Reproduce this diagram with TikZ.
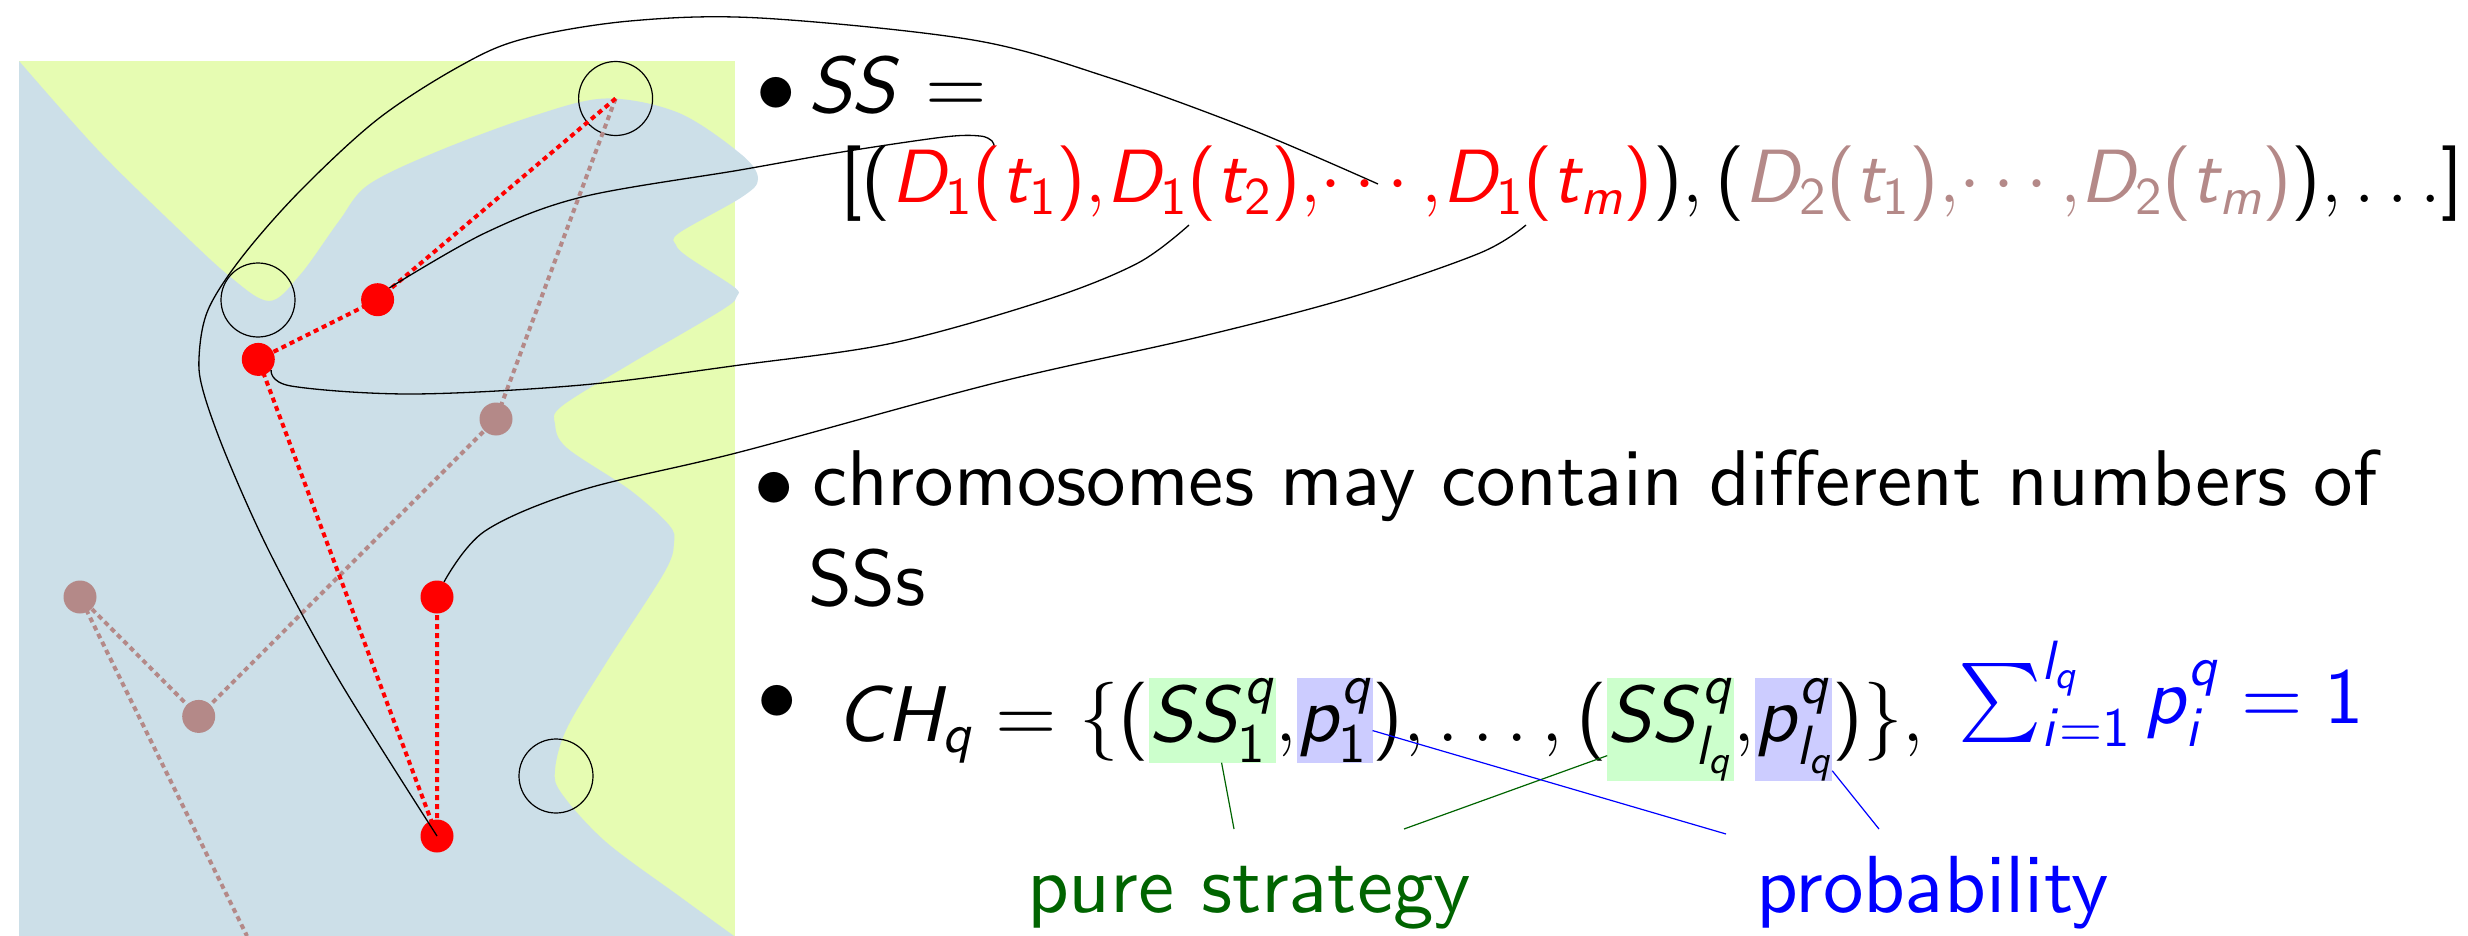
\RequirePackage{fix-cm}
\documentclass[tikz,border=0pt]{standalone}
\usetikzlibrary{calc}
\DeclareFontFamily{OT1}{mysf}{}
\DeclareFontShape{OT1}{mysf}{m}{n}{<->cmss10}{}
\DeclareFontShape{OT1}{mysf}{m}{sl}{<->cmssi10}{}
\DeclareFontFamily{OMX}{myex}{}
\DeclareFontShape{OMX}{myex}{m}{n}{<->cmex10}{}
\DeclareSymbolFont{operators}{OT1}{mysf}{m}{n}
\DeclareSymbolFont{sfletters}{OT1}{mysf}{m}{sl}
\DeclareSymbolFont{largesymbols}{OMX}{myex}{m}{n}
\DeclareMathSymbol{C}{\mathalpha}{sfletters}{`C}
\DeclareMathSymbol{D}{\mathalpha}{sfletters}{`D}
\DeclareMathSymbol{H}{\mathalpha}{sfletters}{`H}
\DeclareMathSymbol{S}{\mathalpha}{sfletters}{`S}
\DeclareMathSymbol{i}{\mathalpha}{sfletters}{`i}
\DeclareMathSymbol{l}{\mathalpha}{sfletters}{`l}
\DeclareMathSymbol{m}{\mathalpha}{sfletters}{`m}
\DeclareMathSymbol{p}{\mathalpha}{sfletters}{`p}
\DeclareMathSymbol{q}{\mathalpha}{sfletters}{`q}
\DeclareMathSymbol{t}{\mathalpha}{sfletters}{`t}
\newcommand{\cmsstext}{\fontencoding{OT1}\fontfamily{mysf}\fontseries{m}\fontshape{n}}
\definecolor{yelbg}{RGB}{230,252,178}
\definecolor{bluebg}{RGB}{204,223,232}
\definecolor{brn}{RGB}{180,137,136}
\definecolor{dgreen}{RGB}{0,100,0}
\definecolor{hlgreen}{RGB}{204,255,204}
\definecolor{hlblue}{RGB}{204,204,255}
\begin{document}
\begin{tikzpicture}[x=1pt,y=-1pt,
  txt/.style={inner sep=0pt, outer sep=0pt, anchor=base west, font={\cmsstext\fontsize{79}{95}\selectfont}},
  lbltxt/.style={inner sep=0pt, outer sep=0pt, anchor=base west, font={\cmsstext\fontsize{81}{97}\selectfont}},
  seqtxt/.style={inner sep=0pt, outer sep=0pt, anchor=base west, font={\cmsstext\fontsize{75.5}{92}\selectfont}},
  bul/.style={inner sep=0pt, outer sep=0pt, anchor=center, font={\fontsize{79}{95}\selectfont}},
  ring/.style={circle, draw=black, line width=1.2pt, minimum size=74pt, inner sep=0pt},
  reddot/.style={circle, fill=red, minimum size=33pt, inner sep=0pt},
  brndot/.style={circle, fill=brn, minimum size=33pt, inner sep=0pt},
  reddots/.style={red, line width=4pt, dash pattern=on 5pt off 4pt},
  brndots/.style={brn, line width=4pt, dash pattern=on 5pt off 4pt},
  curve/.style={black, line width=1.3pt},
  gline/.style={dgreen, line width=1.2pt},
  bline/.style={blue, line width=1.2pt}]
\useasboundingbox (0,0) rectangle (2468,936);
% background
\fill[yelbg] (19,61) rectangle (735,936);
\fill[bluebg] plot[smooth, tension=0.55] coordinates {(19,61) (97,149) (170,221) (228,275) (269,301) (300,275) (339,221) (368,185) (436,152) (533,116) (606,98.5) (679,113) (742,155) (758,179) (742,197) (679,233) (676,245) (688,257) (734,287) (737,296) (722,310) (630,364) (562,406) (555,424) (567,448) (630,490) (669,525) (674,543) (664,573) (606,663) (567,728) (555,770) (562,794) (606,842) (679,896) (734,936)} -- (19,936) -- cycle;
% positions
\coordinate (pr1) at (377.6,299.7);
\coordinate (pr2) at (258.3,359.4);
\coordinate (pr3) at (437,597);
\coordinate (pr4) at (437,836);
\coordinate (pb1) at (496,419);
\coordinate (pb2) at (198.7,716.4);
\coordinate (pb3) at (80,597);
\coordinate (bend) at (247,936);
% circles
\node[ring] (c1) at (615.6,98.5) {};
\node[ring] (c2) at (258,300) {};
\node[ring] (c3) at (556,776) {};
% dotted paths
\draw[brndots] (c1.center) -- (pb1) -- (pb2) -- (pb3) -- (bend);
\draw[reddots] (c1.center) -- (pr1) -- (pr2) -- (pr4) -- (pr3);
% dots
\node[reddot] (r1) at (pr1) {};
\node[reddot] (r2) at (pr2) {};
\node[reddot] (r3) at (pr3) {};
\node[reddot] (r4) at (pr4) {};
\node[brndot] (b1) at (pb1) {};
\node[brndot] (b2) at (pb2) {};
\node[brndot] (b3) at (pb3) {};
% curve end points
\coordinate (eA) at (1378,184);
\coordinate (eB) at (994,146);
\coordinate (eC) at (1189,225);
\coordinate (eD) at (1526,225);
% curves
\draw[curve] plot[smooth, tension=0.55] coordinates {(r4.center) (339,680) (271,555) (228,460) (204,394) (199,358) (208,310) (242,257) (300,191) (378,119) (460,66) (523,39) (630,21) (760,18) (973,40) (1107,77) (1250,129) (eA)};
\draw[curve] plot[smooth, tension=0.55] coordinates {(r1.45) (485,233) (582,197) (740,170) (842,152) (944,137) (980,136) (992,141) (eB)};
\draw[curve] plot[smooth, tension=0.55] coordinates {(r2.-40) (291,386) (412,394) (582,385) (740,365) (893,343) (1046,300) (1138,263) (eC)};
\draw[curve] plot[smooth, tension=0.55] coordinates {(r3.65) (485,531) (582,490) (740,452) (995,383) (1199,337) (1352,297) (1480,253) (eD)};
% bullets
\node[bul] (bu1) at (776.7,95) {$\bullet$};
\node[bul] (bu2) at (774,490) {$\bullet$};
\node[bul] (bu3) at (777,703) {$\bullet$};
% texts
\node[txt] (ss) at (808,113) {$SS =$};
\node[seqtxt] (seq) at (840,203) {$[(\textcolor{red}{D_1(t_1),}\textcolor{red}{D_1(t_2),}\textcolor{red}{\cdots,}\textcolor{red}{D_1(t_m)}),(\textcolor{brn}{D_2(t_1),}\textcolor{brn}{\cdots,}\textcolor{brn}{D_2(t_m)}),\ldots]$};
\node[txt] (chrom) at (812,505) {chromosomes may contain different numbers of};
\node[txt] (ssl) at (808,605) {SSs};
\node[txt] (ch) at (836,741) {$CH_q = \{($};
\node[txt, fill=hlgreen] (g1) at (ch.base east) {$SS_1^q$};
\node[txt] (k1) at (g1.base east) {$,$};
\node[txt, fill=hlblue] (p1) at (k1.base east) {$p_1^q$};
\node[txt] (mid) at (p1.base east) {$),\ldots,($};
\node[txt, fill=hlgreen] (g2) at (mid.base east) {$SS_{l_q}^q$};
\node[txt] (k2) at (g2.base east) {$,$};
\node[txt, fill=hlblue] (p2) at (k2.base east) {$p_{l_q}^q$};
\node[txt] (cl) at (p2.base east) {$)\},$};
\node[txt, text=blue] (sum) at (1958,723) {$\sum_{i=1}^{l_q} p_i^q = 1$};
\node[lbltxt, text=dgreen] (ps) at (1027,912) {pure strategy};
\node[lbltxt, text=blue] (pb) at (1756,912) {probability};
% connectors
\coordinate (gA) at (1234,829);
\coordinate (gB) at (1404,829);
\coordinate (bA) at (1726,834);
\coordinate (bB) at (1879,829);
\draw[gline] ($(g1.south)+(9,0)$) -- (gA);
\draw[gline] ($(g2.west)+(0,26)$) -- (gB);
\draw[bline] ($(p1.east)+(0,10)$) -- (bA);
\draw[bline] ($(p2.south east)+(0,-10)$) -- (bB);
\end{tikzpicture}
\end{document}
